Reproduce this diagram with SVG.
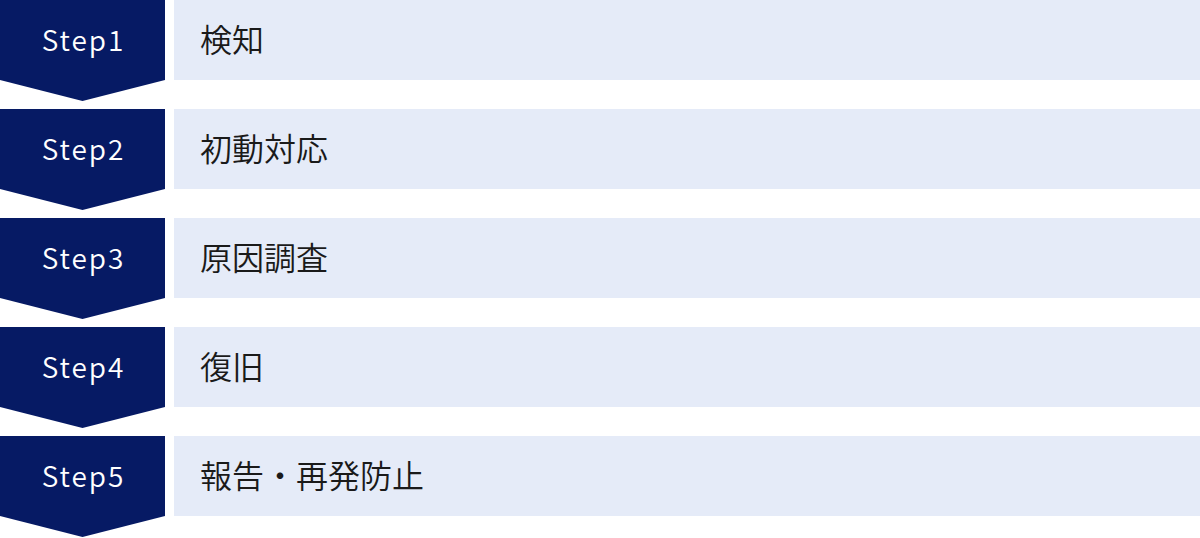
<svg xmlns="http://www.w3.org/2000/svg" width="1200" height="538" viewBox="0 0 1200 538">
<style>
.dark{fill:#061a64}
.light{fill:#e5ebf8}
.step{font-family:"Noto Sans CJK JP","Noto Sans",sans-serif;font-size:28px;fill:#ffffff;text-anchor:middle;letter-spacing:2px;font-weight:350}
.label{font-family:"Noto Sans CJK JP",sans-serif;font-size:32px;fill:#1a1a1a;font-weight:350}
</style>
<rect width="1200" height="538" fill="#ffffff"/>
<g id="step1">
<polygon class="dark" points="0,0 165,0 165,80 82.5,101 0,80"/>
<rect class="light" x="174" y="0" width="1026" height="80"/>
<text class="step" x="83.5" y="51">Step1</text>
<text class="label" x="200" y="52">検知</text>
</g>
<g id="step2">
<polygon class="dark" points="0,109 165,109 165,189 82.5,210 0,189"/>
<rect class="light" x="174" y="109" width="1026" height="80"/>
<text class="step" x="83.5" y="160">Step2</text>
<text class="label" x="200" y="161">初動対応</text>
</g>
<g id="step3">
<polygon class="dark" points="0,218 165,218 165,298 82.5,319 0,298"/>
<rect class="light" x="174" y="218" width="1026" height="80"/>
<text class="step" x="83.5" y="269">Step3</text>
<text class="label" x="200" y="270">原因調査</text>
</g>
<g id="step4">
<polygon class="dark" points="0,327 165,327 165,407 82.5,428 0,407"/>
<rect class="light" x="174" y="327" width="1026" height="80"/>
<text class="step" x="83.5" y="378">Step4</text>
<text class="label" x="200" y="379">復旧</text>
</g>
<g id="step5">
<polygon class="dark" points="0,436 165,436 165,516 82.5,537 0,516"/>
<rect class="light" x="174" y="436" width="1026" height="80"/>
<text class="step" x="83.5" y="487">Step5</text>
<text class="label" x="200" y="488">報告・再発防止</text>
</g>
<g id="connectors"></g>
</svg>
